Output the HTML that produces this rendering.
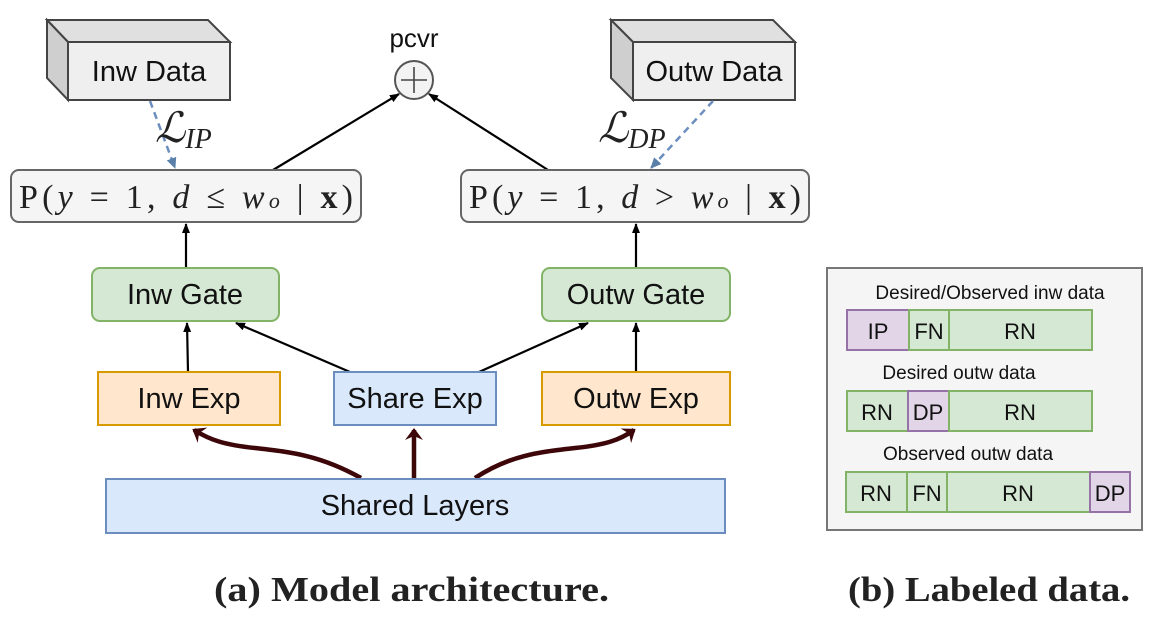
<!DOCTYPE html>
<html><head><meta charset="utf-8"><style>
html,body{margin:0;padding:0;background:#fff;}
svg{display:block;}
.s{font-family:"Liberation Sans",sans-serif;fill:#111;}
.m{font-family:"Liberation Serif",serif;fill:#222;}
</style></head><body>
<svg width="1162" height="630" viewBox="0 0 1162 630" xmlns="http://www.w3.org/2000/svg">
<defs>
<marker id="a" markerWidth="10" markerHeight="10" refX="9" refY="5" orient="auto" markerUnits="userSpaceOnUse"><path d="M0,1 L10,5 L0,9 Z" fill="#000"/></marker>
<marker id="b" markerWidth="12" markerHeight="12" refX="10" refY="6" orient="auto" markerUnits="userSpaceOnUse"><path d="M0,1 L11,6 L0,11 Z" fill="#5a7fa8"/></marker>
<marker id="r" markerWidth="22" markerHeight="22" refX="10" refY="11" orient="auto" markerUnits="userSpaceOnUse"><path d="M0,2 L12,11 L0,20 L4,11 Z" fill="#3d0608"/></marker>
</defs>

<polygon points="47,20 208,20 230,42 68,42" fill="#e0e0e0" stroke="#444" stroke-width="2"/>
<polygon points="47,20 68,42 68,100 47,78" fill="#cfcfcf" stroke="#444" stroke-width="2"/>
<rect x="68" y="42" width="162" height="58" fill="#efefef" stroke="#444" stroke-width="2"/>
<text x="149" y="81" class="s" font-size="29" text-anchor="middle">Inw Data</text>

<polygon points="611,20 773,20 795,42 633,42" fill="#e0e0e0" stroke="#444" stroke-width="2"/>
<polygon points="611,20 633,42 633,100 611,78" fill="#cfcfcf" stroke="#444" stroke-width="2"/>
<rect x="633" y="42" width="162" height="58" fill="#efefef" stroke="#444" stroke-width="2"/>
<text x="714" y="81" class="s" font-size="29" text-anchor="middle">Outw Data</text>

<text x="414" y="47" class="s" font-size="26" text-anchor="middle">pcvr</text>
<circle cx="414" cy="80" r="19" fill="#f3f3f3" stroke="#555" stroke-width="2"/>
<line x1="401" y1="80" x2="427" y2="80" stroke="#444" stroke-width="1.6"/>
<line x1="414" y1="67" x2="414" y2="93" stroke="#444" stroke-width="1.6"/>

<line x1="150" y1="101" x2="175" y2="168" stroke="#6c8ebf" stroke-width="2.5" stroke-dasharray="7,5" marker-end="url(#b)"/>
<line x1="713" y1="101" x2="651" y2="168" stroke="#6c8ebf" stroke-width="2.5" stroke-dasharray="7,5" marker-end="url(#b)"/>
<text x="155" y="142" class="m" font-size="42" font-style="italic">ℒ<tspan font-size="28" dy="6">IP</tspan></text>
<text x="598" y="142" class="m" font-size="42" font-style="italic">ℒ<tspan font-size="28" dy="6">DP</tspan></text>

<line x1="273" y1="170" x2="399" y2="94" stroke="#000" stroke-width="2.2" marker-end="url(#a)"/>
<line x1="548" y1="170" x2="429" y2="94" stroke="#000" stroke-width="2.2" marker-end="url(#a)"/>

<rect x="11" y="170" width="350" height="52" rx="8" fill="#f5f5f5" stroke="#666" stroke-width="2"/>
<text x="186" y="208" class="m" font-size="34" text-anchor="middle" textLength="334" lengthAdjust="spacing">P(<tspan font-style="italic">y</tspan> = 1, <tspan font-style="italic">d</tspan> ≤ <tspan font-style="italic">w<tspan font-size="22">o</tspan></tspan> | <tspan font-weight="bold">x</tspan>)</text>
<rect x="461" y="170" width="348" height="52" rx="8" fill="#f5f5f5" stroke="#666" stroke-width="2"/>
<text x="635" y="208" class="m" font-size="34" text-anchor="middle" textLength="332" lengthAdjust="spacing">P(<tspan font-style="italic">y</tspan> = 1, <tspan font-style="italic">d</tspan> &gt; <tspan font-style="italic">w<tspan font-size="22">o</tspan></tspan> | <tspan font-weight="bold">x</tspan>)</text>

<line x1="186" y1="267" x2="186" y2="224" stroke="#000" stroke-width="2.2" marker-end="url(#a)"/>
<line x1="636" y1="267" x2="636" y2="224" stroke="#000" stroke-width="2.2" marker-end="url(#a)"/>

<rect x="92" y="268" width="187" height="53" rx="8" fill="#d5e8d4" stroke="#82b366" stroke-width="2"/>
<text x="185" y="304" class="s" font-size="29" text-anchor="middle">Inw Gate</text>
<rect x="542" y="268" width="188" height="53" rx="8" fill="#d5e8d4" stroke="#82b366" stroke-width="2"/>
<text x="636" y="304" class="s" font-size="29" text-anchor="middle">Outw Gate</text>

<line x1="188" y1="372" x2="187" y2="323" stroke="#000" stroke-width="2.2" marker-end="url(#a)"/>
<line x1="350" y1="372" x2="236" y2="323" stroke="#000" stroke-width="2.2" marker-end="url(#a)"/>
<line x1="479" y1="372" x2="588" y2="323" stroke="#000" stroke-width="2.2" marker-end="url(#a)"/>
<line x1="636" y1="372" x2="636" y2="323" stroke="#000" stroke-width="2.2" marker-end="url(#a)"/>

<rect x="98" y="372" width="182" height="53" fill="#ffe6cc" stroke="#d79b00" stroke-width="2"/>
<text x="189" y="408" class="s" font-size="29" text-anchor="middle">Inw Exp</text>
<rect x="334" y="372" width="162" height="53" fill="#dae8fc" stroke="#6c8ebf" stroke-width="2"/>
<text x="415" y="408" class="s" font-size="29" text-anchor="middle">Share Exp</text>
<rect x="542" y="372" width="188" height="53" fill="#ffe6cc" stroke="#d79b00" stroke-width="2"/>
<text x="636" y="408" class="s" font-size="29" text-anchor="middle">Outw Exp</text>

<path d="M361,478 C320,455 290,452 255,448 C225,445 210,440 194,430" fill="none" stroke="#3d0608" stroke-width="4.5" marker-end="url(#r)"/>
<line x1="414" y1="478" x2="414" y2="430" stroke="#3d0608" stroke-width="4.5" marker-end="url(#r)"/>
<path d="M475,478 C510,455 540,452 575,448 C605,445 620,440 634,430" fill="none" stroke="#3d0608" stroke-width="4.5" marker-end="url(#r)"/>

<rect x="106" y="479" width="619" height="54" fill="#dae8fc" stroke="#6c8ebf" stroke-width="2"/>
<text x="415" y="515" class="s" font-size="29" text-anchor="middle">Shared Layers</text>

<rect x="827" y="268" width="315" height="262" fill="#f5f5f5" stroke="#777" stroke-width="2"/>
<text x="990" y="299" class="s" font-size="19" text-anchor="middle">Desired/Observed inw data</text>
<rect x="847" y="310" width="62" height="40" fill="#e1d5e7" stroke="#9673a6" stroke-width="2"/>
<rect x="909" y="310" width="40" height="40" fill="#d5e8d4" stroke="#82b366" stroke-width="2"/>
<rect x="949" y="310" width="143" height="40" fill="#d5e8d4" stroke="#82b366" stroke-width="2"/>
<text x="878" y="339" class="s" font-size="22" text-anchor="middle">IP</text>
<text x="929" y="339" class="s" font-size="22" text-anchor="middle">FN</text>
<text x="1020" y="339" class="s" font-size="22" text-anchor="middle">RN</text>

<text x="959" y="379" class="s" font-size="19" text-anchor="middle">Desired outw data</text>
<rect x="847" y="391" width="61" height="40" fill="#d5e8d4" stroke="#82b366" stroke-width="2"/>
<rect x="908" y="391" width="41" height="40" fill="#e1d5e7" stroke="#9673a6" stroke-width="2"/>
<rect x="949" y="391" width="143" height="40" fill="#d5e8d4" stroke="#82b366" stroke-width="2"/>
<text x="877" y="420" class="s" font-size="22" text-anchor="middle">RN</text>
<text x="928" y="420" class="s" font-size="22" text-anchor="middle">DP</text>
<text x="1020" y="420" class="s" font-size="22" text-anchor="middle">RN</text>

<text x="968" y="460" class="s" font-size="19" text-anchor="middle">Observed outw data</text>
<rect x="846" y="472" width="61" height="40" fill="#d5e8d4" stroke="#82b366" stroke-width="2"/>
<rect x="907" y="472" width="40" height="40" fill="#d5e8d4" stroke="#82b366" stroke-width="2"/>
<rect x="947" y="472" width="143" height="40" fill="#d5e8d4" stroke="#82b366" stroke-width="2"/>
<rect x="1090" y="472" width="40" height="40" fill="#e1d5e7" stroke="#9673a6" stroke-width="2"/>
<text x="876" y="501" class="s" font-size="22" text-anchor="middle">RN</text>
<text x="927" y="501" class="s" font-size="22" text-anchor="middle">FN</text>
<text x="1018" y="501" class="s" font-size="22" text-anchor="middle">RN</text>
<text x="1110" y="501" class="s" font-size="22" text-anchor="middle">DP</text>

<text x="214" y="601" class="m" font-size="35" font-weight="bold" fill="#111" textLength="395" lengthAdjust="spacingAndGlyphs">(a) Model architecture.</text>
<text x="848" y="601" class="m" font-size="35" font-weight="bold" fill="#111" textLength="282" lengthAdjust="spacingAndGlyphs">(b) Labeled data.</text>
</svg>
</body></html>
